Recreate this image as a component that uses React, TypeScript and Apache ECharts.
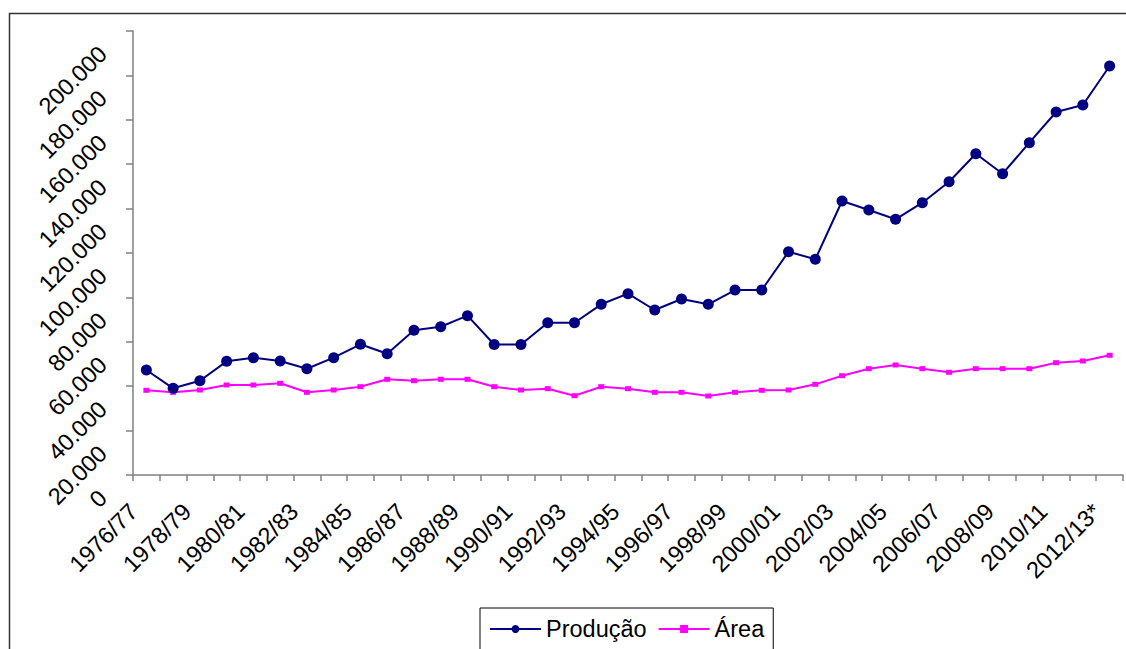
import React, { useEffect, useRef } from "react";
import * as echarts from "echarts";

const categories = [
  "1976/77", "1977/78", "1978/79", "1979/80", "1980/81", "1981/82", "1982/83", "1983/84",
  "1984/85", "1985/86", "1986/87", "1987/88", "1988/89", "1989/90", "1990/91", "1991/92",
  "1992/93", "1993/94", "1994/95", "1995/96", "1996/97", "1997/98", "1998/99", "1999/00",
  "2000/01", "2001/02", "2002/03", "2003/04", "2004/05", "2005/06", "2006/07", "2007/08",
  "2008/09", "2009/10", "2010/11", "2011/12", "2012/13*",
];

const producao = [
  47300, 39050, 42480, 51200, 52840, 51350, 47880, 52840,
  58870, 54640, 65180, 66800, 71760, 58800, 58800, 68600,
  68600, 76890, 81670, 74320, 79280, 76890, 83330, 83330,
  100590, 97160, 123420, 119370, 115180, 122660, 132120, 144730,
  135720, 149690, 163510, 166670, 184230,
];

const area = [
  38150, 37250, 38290, 40540, 40540, 41300, 37250, 38290,
  39780, 43110, 42480, 43110, 43110, 39780, 38290, 38880,
  35720, 39780, 38880, 37250, 37250, 35590, 37250, 38150,
  38290, 40840, 44730, 47880, 49550, 47880, 46260, 47880,
  47880, 47880, 50590, 51350, 53920,
];

const yMin = 0;
const yMax = 200000;
const yStep = 20000;

const FONT = "'Liberation Sans', Arial, sans-serif";
const FS = 23.5;

function fmt(v: number): string {
  return String(v).replace(/\B(?=(\d{3})+(?!\d))/g, ".");
}

export default function App() {
  const ref = useRef<HTMLDivElement>(null);

  useEffect(() => {
    if (!ref.current) return;
    const chart = echarts.init(ref.current, null, { renderer: "svg" });
    const axisColor = "#808080";
    chart.setOption({
      animation: false,
      backgroundColor: "#ffffff",
      textStyle: { fontFamily: FONT },
      grid: { left: 133, right: 3, top: 31, bottom: 174, containLabel: false },
      graphic: [
        {
          type: "rect",
          silent: true,
          z: -10,
          shape: { x: 9.5, y: 13.5, width: 1200, height: 700 },
          style: { fill: "none", stroke: "#333333", lineWidth: 1.5 },
        },
      ],
      legend: {
        left: 480,
        top: 608,
        orient: "horizontal",
        padding: [9, 9, 14, 9],
        borderColor: "#000000",
        borderWidth: 1,
        itemWidth: 51,
        itemHeight: 10,
        itemGap: 11,
        textStyle: { fontSize: FS, color: "#000000", fontFamily: FONT },
        data: ["Produção", "Área"],
      },
      xAxis: {
        type: "category",
        data: categories,
        boundaryGap: true,
        axisLine: { show: true, lineStyle: { color: axisColor, width: 1.5 } },
        axisTick: { show: true, interval: 0, length: 6, lineStyle: { color: axisColor, width: 1.5 } },
        axisLabel: {
          interval: 1,
          rotate: 45,
          margin: 20,
          align: "right",
          verticalAlign: "middle",
          padding: [0, 18, 0, 0],
          fontSize: FS,
          color: "#000000",
          fontFamily: FONT,
        },
        splitLine: { show: false },
      },
      yAxis: {
        type: "value",
        min: yMin,
        max: yMax,
        interval: yStep,
        axisLine: { show: true, lineStyle: { color: axisColor, width: 1.5 } },
        axisTick: { show: true, length: 7, lineStyle: { color: axisColor, width: 1.5 } },
        axisLabel: {
          rotate: 45,
          margin: 11,
          align: "right",
          verticalAlign: "middle",
          padding: [0, 27, 0, 0],
          fontSize: FS,
          color: "#000000",
          fontFamily: FONT,
          formatter: (v: number) => fmt(v),
        },
        splitLine: { show: false },
      },
      series: [
        {
          name: "Produção",
          type: "line",
          data: producao,
          symbol: "circle",
          symbolSize: 11,
          showAllSymbol: true,
          lineStyle: { color: "#000080", width: 2 },
          itemStyle: { color: "#000080" },
          z: 3,
        },
        {
          name: "Área",
          type: "line",
          data: area,
          symbol: "rect",
          symbolSize: [6, 5],
          showAllSymbol: true,
          lineStyle: { color: "#FF00FF", width: 2 },
          itemStyle: { color: "#FF00FF" },
          z: 2,
        },
      ],
    });
    return () => chart.dispose();
  }, []);

  return (
    <div
      ref={ref}
      style={{ position: "fixed", left: 0, top: 0, width: 1126, height: 649, background: "#fff" }}
    />
  );
}
